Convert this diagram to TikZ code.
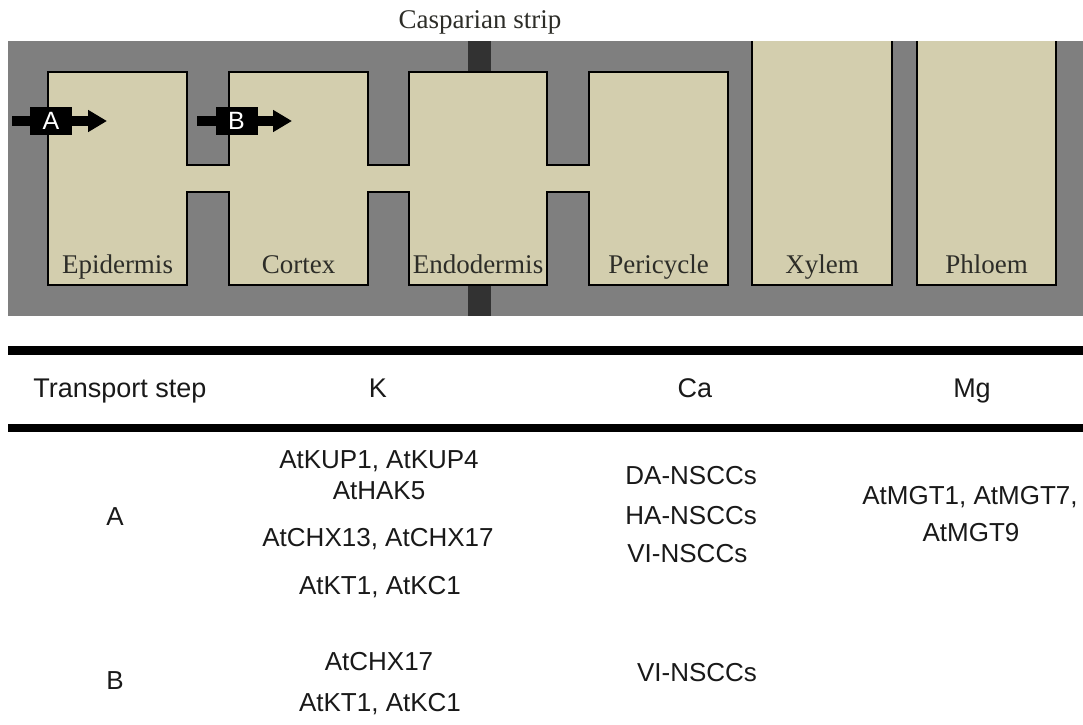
\documentclass[tikz,border=0pt]{standalone}
\usepackage{fontspec}
\setmainfont{Liberation Serif}
\setsansfont{Liberation Sans}
\usepackage{tikz}
\usetikzlibrary{arrows.meta}
\definecolor{CellTan}{RGB}{211,206,174}
\definecolor{WallGray}{RGB}{127,127,127}
\definecolor{StripDark}{RGB}{50,50,50}
\definecolor{LabInk}{RGB}{45,45,40}
\definecolor{TxtInk}{RGB}{25,25,25}
\tikzset{
  cell/.style={draw=black,line width=1.4pt,fill=CellTan,line join=miter},
  celllab/.style={anchor=base,inner sep=0pt,text=LabInk,font=\fontsize{13.5}{16}\selectfont},
  stepbox/.style={fill=black,text=white,inner sep=0pt,minimum width=21pt,minimum height=14pt,
    font=\sffamily\fontsize{12.5}{14}\selectfont},
  flow/.style={draw=black,line width=5pt,-{Triangle[length=9.5pt,width=10.5pt]}},
}
\tikzset{hdr/.style={anchor=base,inner sep=0pt,text=TxtInk,font=\sffamily\fontsize{13.5}{16}\selectfont},
  entry/.style={anchor=base,inner sep=0pt,text=TxtInk,font=\sffamily\fontsize{13}{15.5}\selectfont},
  rule/.style={draw=black,line width=4.5pt}}

\begin{document}
\begin{tikzpicture}[x=0.5pt,y=-0.5pt]
\useasboundingbox (0,0) rectangle (1083,724);
\fill[WallGray] (8,41) rectangle (1083,316);
\fill[StripDark] (468,41) rectangle (491,316);
\draw[cell] (48,72) -- (187,72) -- (187,165) -- (229,165) -- (229,72) -- (368,72) -- (368,165)
  -- (409,165) -- (409,72) -- (547,72) -- (547,165) -- (589,165) -- (589,72) -- (728,72)
  -- (728,285) -- (589,285) -- (589,192) -- (547,192) -- (547,285) -- (409,285) -- (409,192)
  -- (368,192) -- (368,285) -- (229,285) -- (229,192) -- (187,192) -- (187,285) -- (48,285) -- cycle;
\fill[CellTan] (752,41) rectangle (892,285);
\draw[cell,fill=none] (752,41) -- (752,285) -- (892,285) -- (892,41);
\fill[CellTan] (917,41) rectangle (1056,285);
\draw[cell,fill=none] (917,41) -- (917,285) -- (1056,285) -- (1056,41);
\coordinate (a0) at (12,121);
\coordinate (a1) at (107,121);
\coordinate (b0) at (197,121);
\coordinate (b1) at (292,121);
\draw[flow] (a0) -- (a1);
\draw[flow] (b0) -- (b1);
\node[stepbox] (boxA) at (51,121) {A};
\node[stepbox] (boxB) at (236.5,121) {B};
\node[celllab] (casp) at (480,28) {Casparian strip};
\node[celllab] (epi) at (117.5,273) {Epidermis};
\node[celllab] (cor) at (298.5,273) {Cortex};
\node[celllab] (endo) at (478,273) {Endodermis};
\node[celllab] (peri) at (658.5,273) {Pericycle};
\node[celllab] (xyl) at (822,273) {Xylem};
\node[celllab] (phl) at (986.5,273) {Phloem};
\draw[rule] (8,350.5) -- (1083,350.5);
\draw[rule,line width=4pt] (8,428) -- (1083,428);
\node[hdr] (hstep) at (120,397) {Transport step};
\node[hdr] (hK) at (378,397) {K};
\node[hdr] (hCa) at (695,397) {Ca};
\node[hdr] (hMg) at (972,397) {Mg};
\node[entry] (rA) at (115,525) {A};
\node[entry] (kA1) at (379,468) {AtKUP1, AtKUP4};
\node[entry] (kA2) at (379,499) {AtHAK5};
\node[entry] (kA3) at (378,546) {AtCHX13, AtCHX17};
\node[entry] (kA4) at (380,594) {AtKT1, AtKC1};
\node[entry,anchor=base west] (cA1) at (625,484) {DA-NSCCs};
\node[entry,anchor=base west] (cA2) at (625,524) {HA-NSCCs};
\node[entry,anchor=base west] (cA3) at (627,562) {VI-NSCCs};
\node[entry] (mA1) at (970,504) {AtMGT1, AtMGT7,};
\node[entry] (mA2) at (971,541) {AtMGT9};
\node[entry] (rB) at (115,689) {B};
\node[entry] (kB1) at (379,670) {AtCHX17};
\node[entry] (kB2) at (380,711) {AtKT1, AtKC1};
\node[entry] (cB1) at (697,681) {VI-NSCCs};
\end{tikzpicture}
\end{document}
